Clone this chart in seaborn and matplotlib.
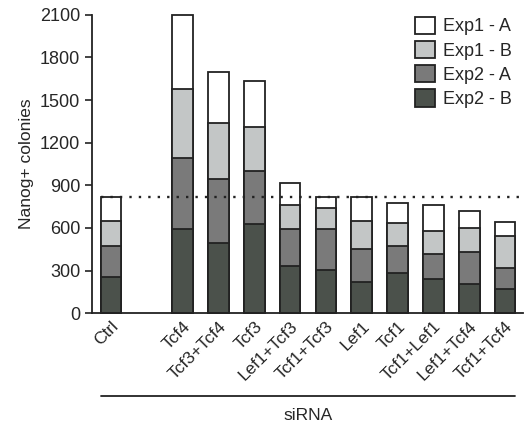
import matplotlib
matplotlib.use("Agg")
import matplotlib.pyplot as plt
import matplotlib.transforms as mtransforms
import seaborn as sns
import pandas as pd
import numpy as np

categories = ["Ctrl", "Tcf4", "Tcf3+Tcf4", "Tcf3", "Lef1+Tcf3", "Tcf1+Tcf3",
              "Lef1", "Tcf1", "Tcf1+Lef1", "Lef1+Tcf4", "Tcf1+Tcf4"]
exp2_b = [257, 595, 492, 626, 335, 305, 223, 281, 241, 209, 171]
exp2_a = [216, 495, 454, 377, 260, 285, 232, 192, 176, 225, 145]
exp1_b = [174, 489, 394, 309, 169, 148, 192, 160, 164, 166, 225]
exp1_a = [173, 521, 354, 324, 150, 82, 168, 140, 181, 117, 103]
series_names = ["Exp1 - A", "Exp1 - B", "Exp2 - A", "Exp2 - B"]
yticks = [0, 300, 600, 900, 1200, 1500, 1800, 2100]

sns.set_theme(style="ticks")
plt.rcParams['font.family'] = ['Liberation Sans', 'DejaVu Sans']

colors = {"Exp1 - A": "#ffffff", "Exp1 - B": "#c3c6c6",
          "Exp2 - A": "#7a7a7a", "Exp2 - B": "#4b514b"}

# positions: gap slot after Ctrl
positions = [0] + list(range(2, 2 + len(categories) - 1))

cum = {}
c = np.zeros(len(categories))
for name, vals in zip(["Exp2 - B", "Exp2 - A", "Exp1 - B", "Exp1 - A"],
                      [exp2_b, exp2_a, exp1_b, exp1_a]):
    c = c + np.array(vals)
    cum[name] = c.copy()

fig = plt.figure(figsize=(5.24, 4.30), dpi=100)
ax = fig.add_axes([0.1756, 0.2714, 0.8224, 0.6944])

for name in series_names:
    df = pd.DataFrame({"pos": positions, "val": cum[name]})
    sns.barplot(data=df, x="pos", y="val", native_scale=True, ax=ax,
                color=colors[name], edgecolor="#222222", linewidth=1.3,
                width=0.58, saturation=1, label=name)
for p in ax.patches:
    p.set_clip_on(False)

ctrl_total = cum["Exp1 - A"][0]
ax.hlines(ctrl_total, -0.29, 11.5, colors="#222222", linestyles=(0, (1, 3.0)),
          linewidth=1.7, zorder=5)

ax.set_xlim(-0.53, 11.5)
ax.set_ylim(0, 2100)
ax.set_yticks(yticks)
ax.set_yticklabels([str(t) for t in yticks], fontsize=13)
ax.set_xticks(positions)
ax.set_xticklabels(categories, rotation=45, ha="right", rotation_mode="anchor",
                   fontsize=12.5)
ax.tick_params(axis="x", length=0, pad=4)
ax.tick_params(axis="y", length=5, width=1.2, direction="out", color="#222222")
ax.set_xlabel("")
ax.set_ylabel("Nanog+ colonies", fontsize=12.5)
for s in ["top", "right"]:
    ax.spines[s].set_visible(False)
for s in ["left", "bottom"]:
    ax.spines[s].set_linewidth(1.3)
    ax.spines[s].set_color("#222222")

trans = mtransforms.blended_transform_factory(ax.transData, fig.transFigure)
ax.plot([-0.29, 11.29], [1 - 396 / 430, 1 - 396 / 430], color="#222222",
        lw=1.3, transform=trans, clip_on=False)
ax.text(5.5, 1 - 416 / 430, "siRNA", transform=trans, ha="center",
        va="center", fontsize=12.5)

leg = ax.legend(loc="upper right", bbox_to_anchor=(1.0, 1.03), frameon=False,
                fontsize=13, handlelength=1.1, handleheight=1.1,
                handletextpad=0.45, labelspacing=0.3, borderaxespad=0.2)

fig.savefig("out.png", dpi=100)
